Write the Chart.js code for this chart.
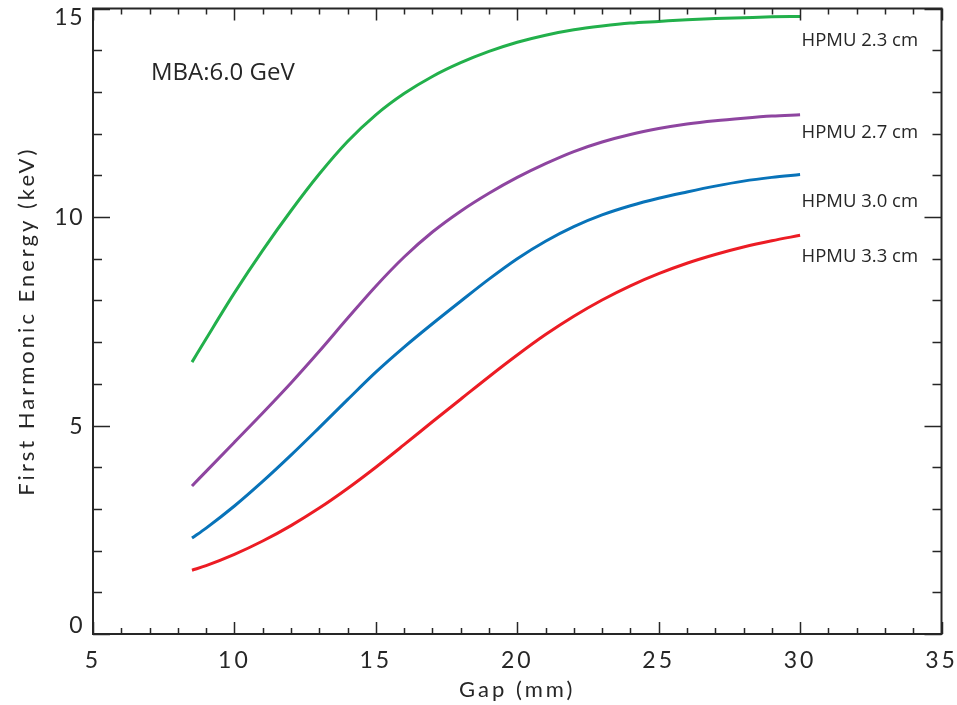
<!DOCTYPE html>
<html>
<head>
<meta charset="utf-8">
<script src="https://cdn.jsdelivr.net/npm/chart.js@4.4.1/dist/chart.umd.min.js"></script>
<style>
  html, body { margin: 0; padding: 0; background: #fff; }
  #wrap { width: 957px; height: 705px; position: relative; }
</style>
</head>
<body>
<div id="wrap"><canvas id="chart"></canvas></div>
<script>
// ===== Data =====
const gaps = [8.5, 9, 10, 11, 12, 13, 14, 15, 16, 17, 18, 19, 20, 21, 22, 23, 24, 25, 26, 27, 28, 29, 30];

const hpmu23 = [6.52, 7.08, 8.18, 9.20, 10.15, 11.03, 11.81, 12.45, 12.96, 13.37, 13.70, 13.97, 14.19, 14.36, 14.49, 14.58, 14.65, 14.69, 14.73, 14.76, 14.78, 14.80, 14.81];
const hpmu27 = [3.55, 3.90, 4.60, 5.30, 6.02, 6.78, 7.57, 8.34, 9.04, 9.64, 10.14, 10.57, 10.95, 11.28, 11.57, 11.80, 11.98, 12.12, 12.23, 12.31, 12.37, 12.42, 12.45];
const hpmu30 = [2.30, 2.54, 3.07, 3.66, 4.29, 4.95, 5.62, 6.28, 6.88, 7.44, 7.98, 8.51, 9.00, 9.42, 9.77, 10.05, 10.27, 10.45, 10.60, 10.74, 10.86, 10.95, 11.02];
const hpmu33 = [1.53, 1.64, 1.91, 2.23, 2.60, 3.02, 3.49, 4.00, 4.54, 5.09, 5.63, 6.17, 6.69, 7.18, 7.62, 8.01, 8.35, 8.64, 8.89, 9.10, 9.28, 9.43, 9.56];

const seriesNames = ['HPMU 2.3 cm', 'HPMU 2.7 cm', 'HPMU 3.0 cm', 'HPMU 3.3 cm'];
const seriesColors = ['#22b04b', '#8e45a0', '#0873b9', '#ec1c24'];

const xTicks = [5, 10, 15, 20, 25, 30, 35];
const yTicks = [0, 5, 10, 15];

// text labels placed in data coordinates
const noteText = 'MBA:6.0 GeV';
const notePos = { x: 7.05, y: 13.45 };
const seriesLabelPos = [
  { x: 30.05, y: 14.22 },
  { x: 30.05, y: 12.01 },
  { x: 30.05, y: 10.36 },
  { x: 30.05, y: 9.04 }
];

const AXIS_FONT = 'Lato, "DejaVu Sans", sans-serif';
const NOTE_FONT = '"Open Sans", "Noto Sans", sans-serif';
const INK = '#262626';

// ===== Helpers =====
function toPoints(values) {
  return gaps.map((g, i) => ({ x: g, y: values[i] }));
}

// wide letter spacing for the axis texts
const spacing = {
  id: 'spacing',
  beforeDraw(chart) {
    chart.ctx.letterSpacing = '3px';
  }
};

// frame, inward ticks on all four sides, and the y tick labels
const frameTicks = {
  id: 'frameTicks',
  afterDatasetsDraw(chart) {
    const { ctx, chartArea: a, scales } = chart;
    const xs = scales.x, ys = scales.y;
    ctx.save();
    ctx.strokeStyle = INK;
    ctx.lineWidth = 2;
    ctx.strokeRect(a.left, a.top, a.right - a.left, a.bottom - a.top);
    ctx.lineWidth = 1.5;
    ctx.beginPath();
    for (let v = xs.min; v <= xs.max; v += 1) {
      const px = Math.round(xs.getPixelForValue(v)) + 0.5;
      const len = v % 5 === 0 ? 12 : 6;
      ctx.moveTo(px, a.bottom); ctx.lineTo(px, a.bottom - len);
      ctx.moveTo(px, a.top); ctx.lineTo(px, a.top + len);
    }
    for (let v = ys.min; v <= ys.max; v += 1) {
      const py = Math.round(ys.getPixelForValue(v)) + 0.5;
      const len = v % 5 === 0 ? 17 : 9;
      ctx.moveTo(a.left, py); ctx.lineTo(a.left + len, py);
      ctx.moveTo(a.right, py); ctx.lineTo(a.right - len, py);
    }
    ctx.stroke();

    // y labels: top one hangs below the frame top, bottom one sits on the frame bottom
    ctx.fillStyle = INK;
    ctx.font = '23px ' + AXIS_FONT;
    ctx.letterSpacing = '1.5px';
    ctx.textAlign = 'right';
    yTicks.forEach(v => {
      ctx.textBaseline = v === ys.max ? 'top' : (v === ys.min ? 'bottom' : 'middle');
      const dy = v === ys.max ? -2 : (v === ys.min ? 3 : 1);
      ctx.fillText(String(v), a.left - 9, ys.getPixelForValue(v) + dy);
    });
    ctx.restore();
  }
};

// free text: the beam note and the series names at the line ends
const textLabels = {
  id: 'textLabels',
  afterDraw(chart) {
    const { ctx, scales } = chart;
    ctx.save();
    ctx.letterSpacing = '0px';
    ctx.fillStyle = INK;
    ctx.textBaseline = 'middle';
    ctx.textAlign = 'left';
    ctx.font = '24px ' + NOTE_FONT;
    ctx.fillText(noteText, scales.x.getPixelForValue(notePos.x), scales.y.getPixelForValue(notePos.y));
    ctx.font = '18.5px ' + NOTE_FONT;
    seriesNames.forEach((name, i) => {
      const p = seriesLabelPos[i];
      ctx.fillText(name, scales.x.getPixelForValue(p.x), scales.y.getPixelForValue(p.y));
    });
    ctx.restore();
  }
};

// ===== Chart =====
const ctx = document.getElementById('chart').getContext('2d');

new Chart(ctx, {
  type: 'line',
  data: {
    datasets: [hpmu23, hpmu27, hpmu30, hpmu33].map((vals, i) => ({
      label: seriesNames[i],
      data: toPoints(vals),
      borderColor: seriesColors[i],
      borderWidth: 3,
      pointRadius: 0,
      cubicInterpolationMode: 'monotone',
      fill: false
    }))
  },
  options: {
    responsive: true,
    maintainAspectRatio: false,
    animation: false,
    layout: { padding: { top: 8.5, right: 15.5, left: 0, bottom: 0 } },
    plugins: {
      legend: { display: false },
      tooltip: { enabled: false }
    },
    scales: {
      x: {
        type: 'linear',
        min: 5,
        max: 35,
        afterBuildTicks: (s) => { s.ticks = xTicks.map(v => ({ value: v })); },
        afterFit: (s) => { s.height = 71; s.paddingLeft = 0; s.paddingRight = 0; },
        grid: { display: false, drawTicks: false },
        border: { display: false },
        ticks: {
          padding: 13,
          color: INK,
          font: { family: AXIS_FONT, size: 23 },
          maxRotation: 0
        },
        title: {
          display: true,
          text: 'Gap (mm)',
          color: INK,
          font: { family: AXIS_FONT, size: 22 },
          padding: { top: 0, bottom: 2 }
        }
      },
      y: {
        type: 'linear',
        min: 0,
        max: 15,
        afterBuildTicks: (s) => { s.ticks = yTicks.map(v => ({ value: v })); },
        afterFit: (s) => { s.width = 93; s.paddingTop = 0; s.paddingBottom = 0; },
        grid: { display: false, drawTicks: false },
        border: { display: false },
        ticks: { display: false },
        title: {
          display: true,
          text: 'First Harmonic Energy (keV)',
          color: INK,
          font: { family: AXIS_FONT, size: 22 },
          padding: { top: 14, bottom: 0 }
        }
      }
    }
  },
  plugins: [spacing, frameTicks, textLabels]
});
</script>
</body>
</html>
